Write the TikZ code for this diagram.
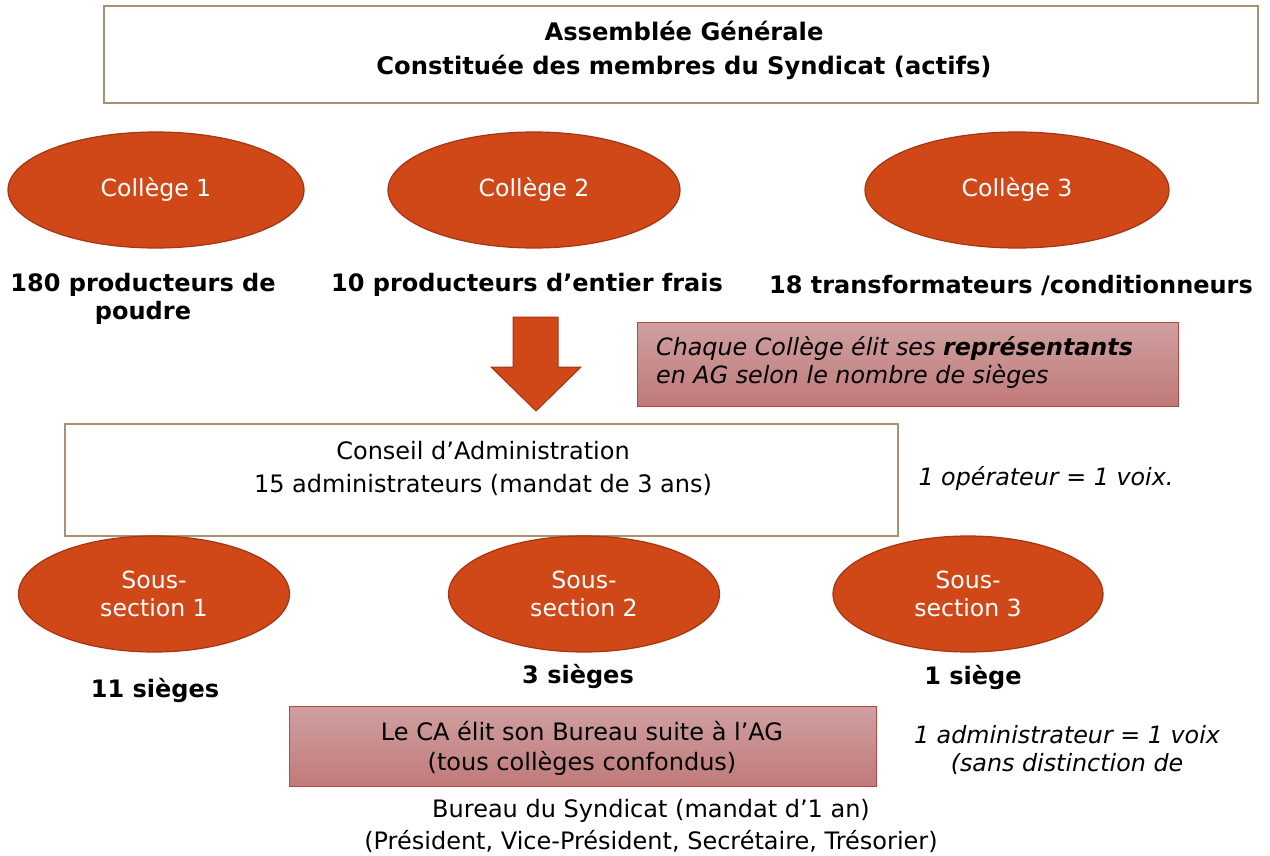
\documentclass[tikz,border=0pt]{standalone}
\usepackage{fontspec}
\setmainfont{DejaVu Sans}
\usetikzlibrary{shapes.geometric}
\definecolor{ell}{RGB}{209,72,24}
\definecolor{ellb}{RGB}{165,52,18}
\definecolor{tan}{RGB}{168,146,112}
\definecolor{pinkt}{RGB}{208,160,160}
\definecolor{pinkb}{RGB}{192,122,122}
\definecolor{pinkd}{RGB}{180,70,70}
\tikzset{
  coll/.style={ellipse, draw=ellb, line width=1.2pt, fill=ell, text=white, inner sep=0pt, font=\fontsize{23.6}{28}\selectfont, align=center},
  bold/.style={font=\bfseries\fontsize{24}{28}\selectfont, align=center, inner sep=0pt},
  plain/.style={font=\fontsize{24}{31}\selectfont, align=center, inner sep=0pt},
  ital/.style={font=\itshape\fontsize{23.8}{28}\selectfont, align=center, inner sep=0pt},
  tanbox/.style={draw=tan, line width=2pt, fill=white},
  pinkbox/.style={draw=pinkd, line width=1pt, top color=pinkt, bottom color=pinkb},
}
\begin{document}
\begin{tikzpicture}[x=1pt,y=-1pt]
\useasboundingbox (0,0) rectangle (1270,856);
% Assemblee generale
\draw[tanbox] (104,6) rectangle (1258,103);
\node[bold, font=\bfseries\fontsize{24.2}{34}\selectfont] (ag) at (684,50) {Assemblée Générale\\Constituée des membres du Syndicat (actifs)};
% colleges
\node[coll, minimum width=296pt, minimum height=116pt] (c1) at (156,190) {Collège 1};
\node[coll, minimum width=292pt, minimum height=116pt] (c2) at (534,190) {Collège 2};
\node[coll, minimum width=304pt, minimum height=116pt] (c3) at (1017,190) {Collège 3};
\node[bold] (t1) at (143,299) {180 producteurs de\\poudre};
\node[bold] (t2) at (527,285) {10 producteurs d’entier frais};
\node[bold] (t3) at (1011,285) {18 transformateurs /conditionneurs};
% big arrow
\fill[ell, draw=ellb, line width=1pt] (513,317) -- (558,317) -- (558,367) -- (581,367) -- (536,411) -- (491,367) -- (513,367) -- cycle;
% pink box 1
\draw[pinkbox] (637,322) rectangle (1178,406);
\node[ital, align=left, anchor=west] (p1) at (656,362) {Chaque Collège élit ses \textbf{représentants}\\en AG selon le nombre de sièges};
% CA box
\draw[tanbox] (65,424) rectangle (898,536);
\node[plain, font=\fontsize{24}{33}\selectfont] (ca) at (483,468) {Conseil d’Administration\\15 administrateurs (mandat de 3 ans)};
\node[ital] (v1) at (1046,478) {1 opérateur = 1 voix.};
% sous-sections
\node[coll, minimum width=271pt, minimum height=116pt] (s1) at (154,594) {Sous-\\section 1};
\node[coll, minimum width=271pt, minimum height=116pt] (s2) at (584,594) {Sous-\\section 2};
\node[coll, minimum width=270pt, minimum height=116pt] (s3) at (968,594) {Sous-\\section 3};
\node[bold] (n1) at (155,690) {11 sièges};
\node[bold] (n2) at (578,676) {3 sièges};
\node[bold] (n3) at (973,677) {1 siège};
% pink box 2
\draw[pinkbox] (289,706) rectangle (876,786);
\node[plain, font=\fontsize{24}{30}\selectfont] (p2) at (582,748) {Le CA élit son Bureau suite à l’AG\\(tous collèges confondus)};
\node[ital] (v2) at (1067,750) {1 administrateur = 1 voix\\(sans distinction de};
\node[plain, font=\fontsize{24}{32}\selectfont] (bu) at (651,826) {Bureau du Syndicat (mandat d’1 an)\\(Président, Vice-Président, Secrétaire, Trésorier)};
\end{tikzpicture}
\end{document}
